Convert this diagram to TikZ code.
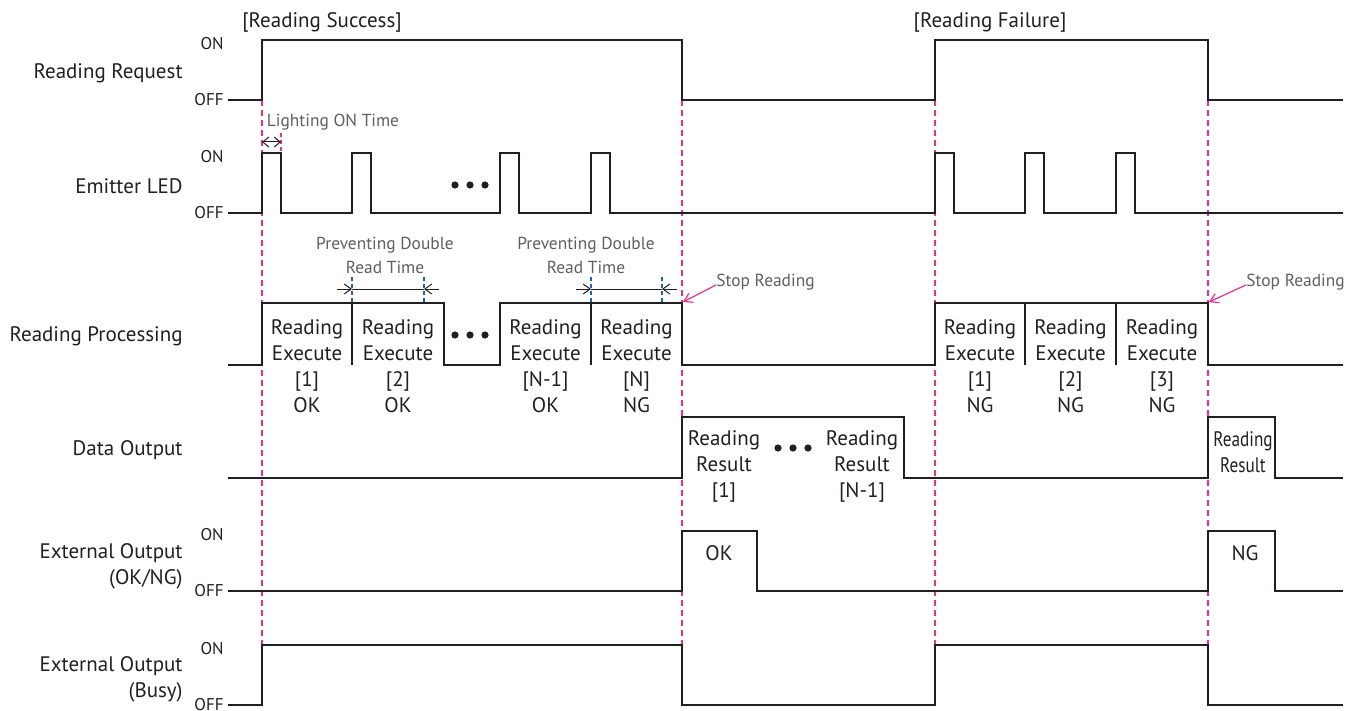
\documentclass[tikz,border=0pt]{standalone}
\usepackage{fontspec}
\setmainfont{PT Sans}
\usetikzlibrary{arrows.meta}
\definecolor{sigblack}{RGB}{35,31,32}
\definecolor{markpink}{RGB}{232,48,140}
\definecolor{guideblue}{RGB}{30,95,200}
\definecolor{notegray}{RGB}{95,95,95}

\begin{document}
\begin{tikzpicture}[x=0.5pt, y=-0.5pt,
  every node/.style={font=\fontsize{10.5}{13}\selectfont, text=sigblack, inner sep=0pt},
  lvl/.style={font=\fontsize{8.5}{10}\selectfont, anchor=east},
  note/.style={font=\fontsize{8.7}{12}\selectfont, text=notegray},
  sig/.style={draw=sigblack, line width=1.35pt},
  guide/.style={draw=markpink, line width=0.7pt, dash pattern=on 3pt off 2pt},
  blueguide/.style={draw=guideblue, line width=0.6pt, dash pattern=on 2pt off 1.5pt},
  dimline/.style={draw=sigblack, line width=0.5pt},
  dimtip/.style={dimline, -{Straight Barb[length=3.5pt, width=5pt]}},
  stoparrow/.style={draw=markpink, line width=0.6pt, -{Straight Barb[length=4pt, width=5pt]}}]

  \useasboundingbox (0,0) rectangle (1358,711);

  % guide lines
  \foreach \x in {262,682,935,1208}
    \draw[guide] (\x,100) -- (\x,645);

  % row names
  \node[anchor=east] (nreq) at (183,73) {Reading Request};
  \node[anchor=east] (nled) at (183,186) {Emitter LED};
  \node[anchor=east] (nproc) at (183,336) {Reading Processing};
  \node[anchor=east] (ndata) at (183,450) {Data Output};
  \node[anchor=east, align=right] (nok) at (183,566) {External Output\\(OK/NG)};
  \node[anchor=east, align=right] (nbusy) at (183,679) {External Output\\(Busy)};

  % ON / OFF
  \foreach \on/\off [count=\i] in {40/100, 153/213, 531/591, 645/705} {
    \node[lvl] (on\i) at (224,\on+4) {ON};
    \node[lvl] (off\i) at (224,\off) {OFF};
  }

  % titles
  \node (tsucc) at (322,22) {[Reading Success]};
  \node (tfail) at (990,22) {[Reading Failure]};

  % signals
  \draw[sig] (228,100) -| (262,40) -| (682,100) -| (935,40) -| (1208,100) -- (1343,100);
  \draw[sig] (228,213) \foreach \a in {262,352,500,591,935,1025,1116} { -| (\a,153) -| (\a+19,213) } -- (1343,213);
  \draw[sig] (228,365) -| (262,303) -| (444,365) -| (500,303) -| (682,365) -| (935,303) -| (1208,365) -- (1343,365);
  \foreach \x in {352,591,1025,1116}
    \draw[sig] (\x,303) -- (\x,365);
  \draw[sig] (228,478) -| (682,417) -| (904,478) -| (1208,417) -| (1275,478) -- (1343,478);
  \draw[sig] (228,591) -| (682,531) -| (757,591) -| (1208,531) -| (1275,591) -- (1343,591);
  \draw[sig] (228,705) -| (262,645) -| (682,705) -| (935,645) -| (1208,705) -- (1343,705);

  % dots
  \foreach \x in {455,470,485} {
    \fill[sigblack] (\x,185) circle (1.8pt);
    \fill[sigblack] (\x,335) circle (1.8pt);
  }
  \foreach \x in {778,793,808}
    \fill[sigblack] (\x,448) circle (1.8pt);

  % processing labels
  \foreach \cx/\num/\res [count=\i] in {307/1/OK, 398/2/OK, 545.5/N-1/OK, 636.5/N/NG, 980/1/NG, 1070.5/2/NG, 1162/3/NG}
    \node[align=center] (exec\i) at (\cx,366) {Reading\\Execute\\{}[\num]\\\res};

  % data output labels
  \node[align=center] (res1) at (724,466) {Reading\\Result\\{}[1]};
  \node[align=center] (res2) at (862,466) {Reading\\Result\\{}[N-1]};
  \node[align=center] (res3) at (1243,452) {\scalebox{0.82}[1]{Reading}\\\scalebox{0.82}[1]{Result}};
  \node (okout) at (719,553) {OK};
  \node (ngout) at (1245,553) {NG};

  % lighting on time
  \node[note] (lighttxt) at (333,122) {Lighting ON Time};
  \coordinate (lon1) at (262,142);
  \coordinate (lon2) at (281,142);
  \draw[guide, dash pattern=on 2pt off 1.5pt] (281,133) -- (281,153);
  \draw[dimline, {Straight Barb[length=3pt, width=5pt]}-{Straight Barb[length=3pt, width=5pt]}] (lon1) -- (lon2);

  % preventing double read time
  \foreach \a/\b/\cx [count=\i] in {352/424/385, 591/662/586} {
    \node[note, align=center] (pdtxt\i) at (\cx,255) {Preventing Double\\Read Time};
    \draw[blueguide] (\a,277) -- (\a,303);
    \draw[blueguide] (\b,277) -- (\b,303);
    \coordinate (pda\i) at (\a,289);
    \coordinate (pdb\i) at (\b,289);
    \draw[dimtip] ([xshift=-7.5pt]pda\i) -- (pda\i);
    \draw[dimline] (pda\i) -- (pdb\i);
    \draw[dimtip] ([xshift=7.5pt]pdb\i) -- (pdb\i);
  }

  % stop reading
  \node[note, anchor=west] (stop1) at (716,282) {Stop Reading};
  \node[note, anchor=west] (stop2) at (1246,282) {Stop Reading};
  \coordinate (end1) at (683,302);
  \coordinate (end2) at (1209,302);
  \draw[stoparrow] ([yshift=-1.5pt]stop1.west) -- (end1);
  \draw[stoparrow] ([yshift=-1.5pt]stop2.west) -- (end2);
\end{tikzpicture}
\end{document}
